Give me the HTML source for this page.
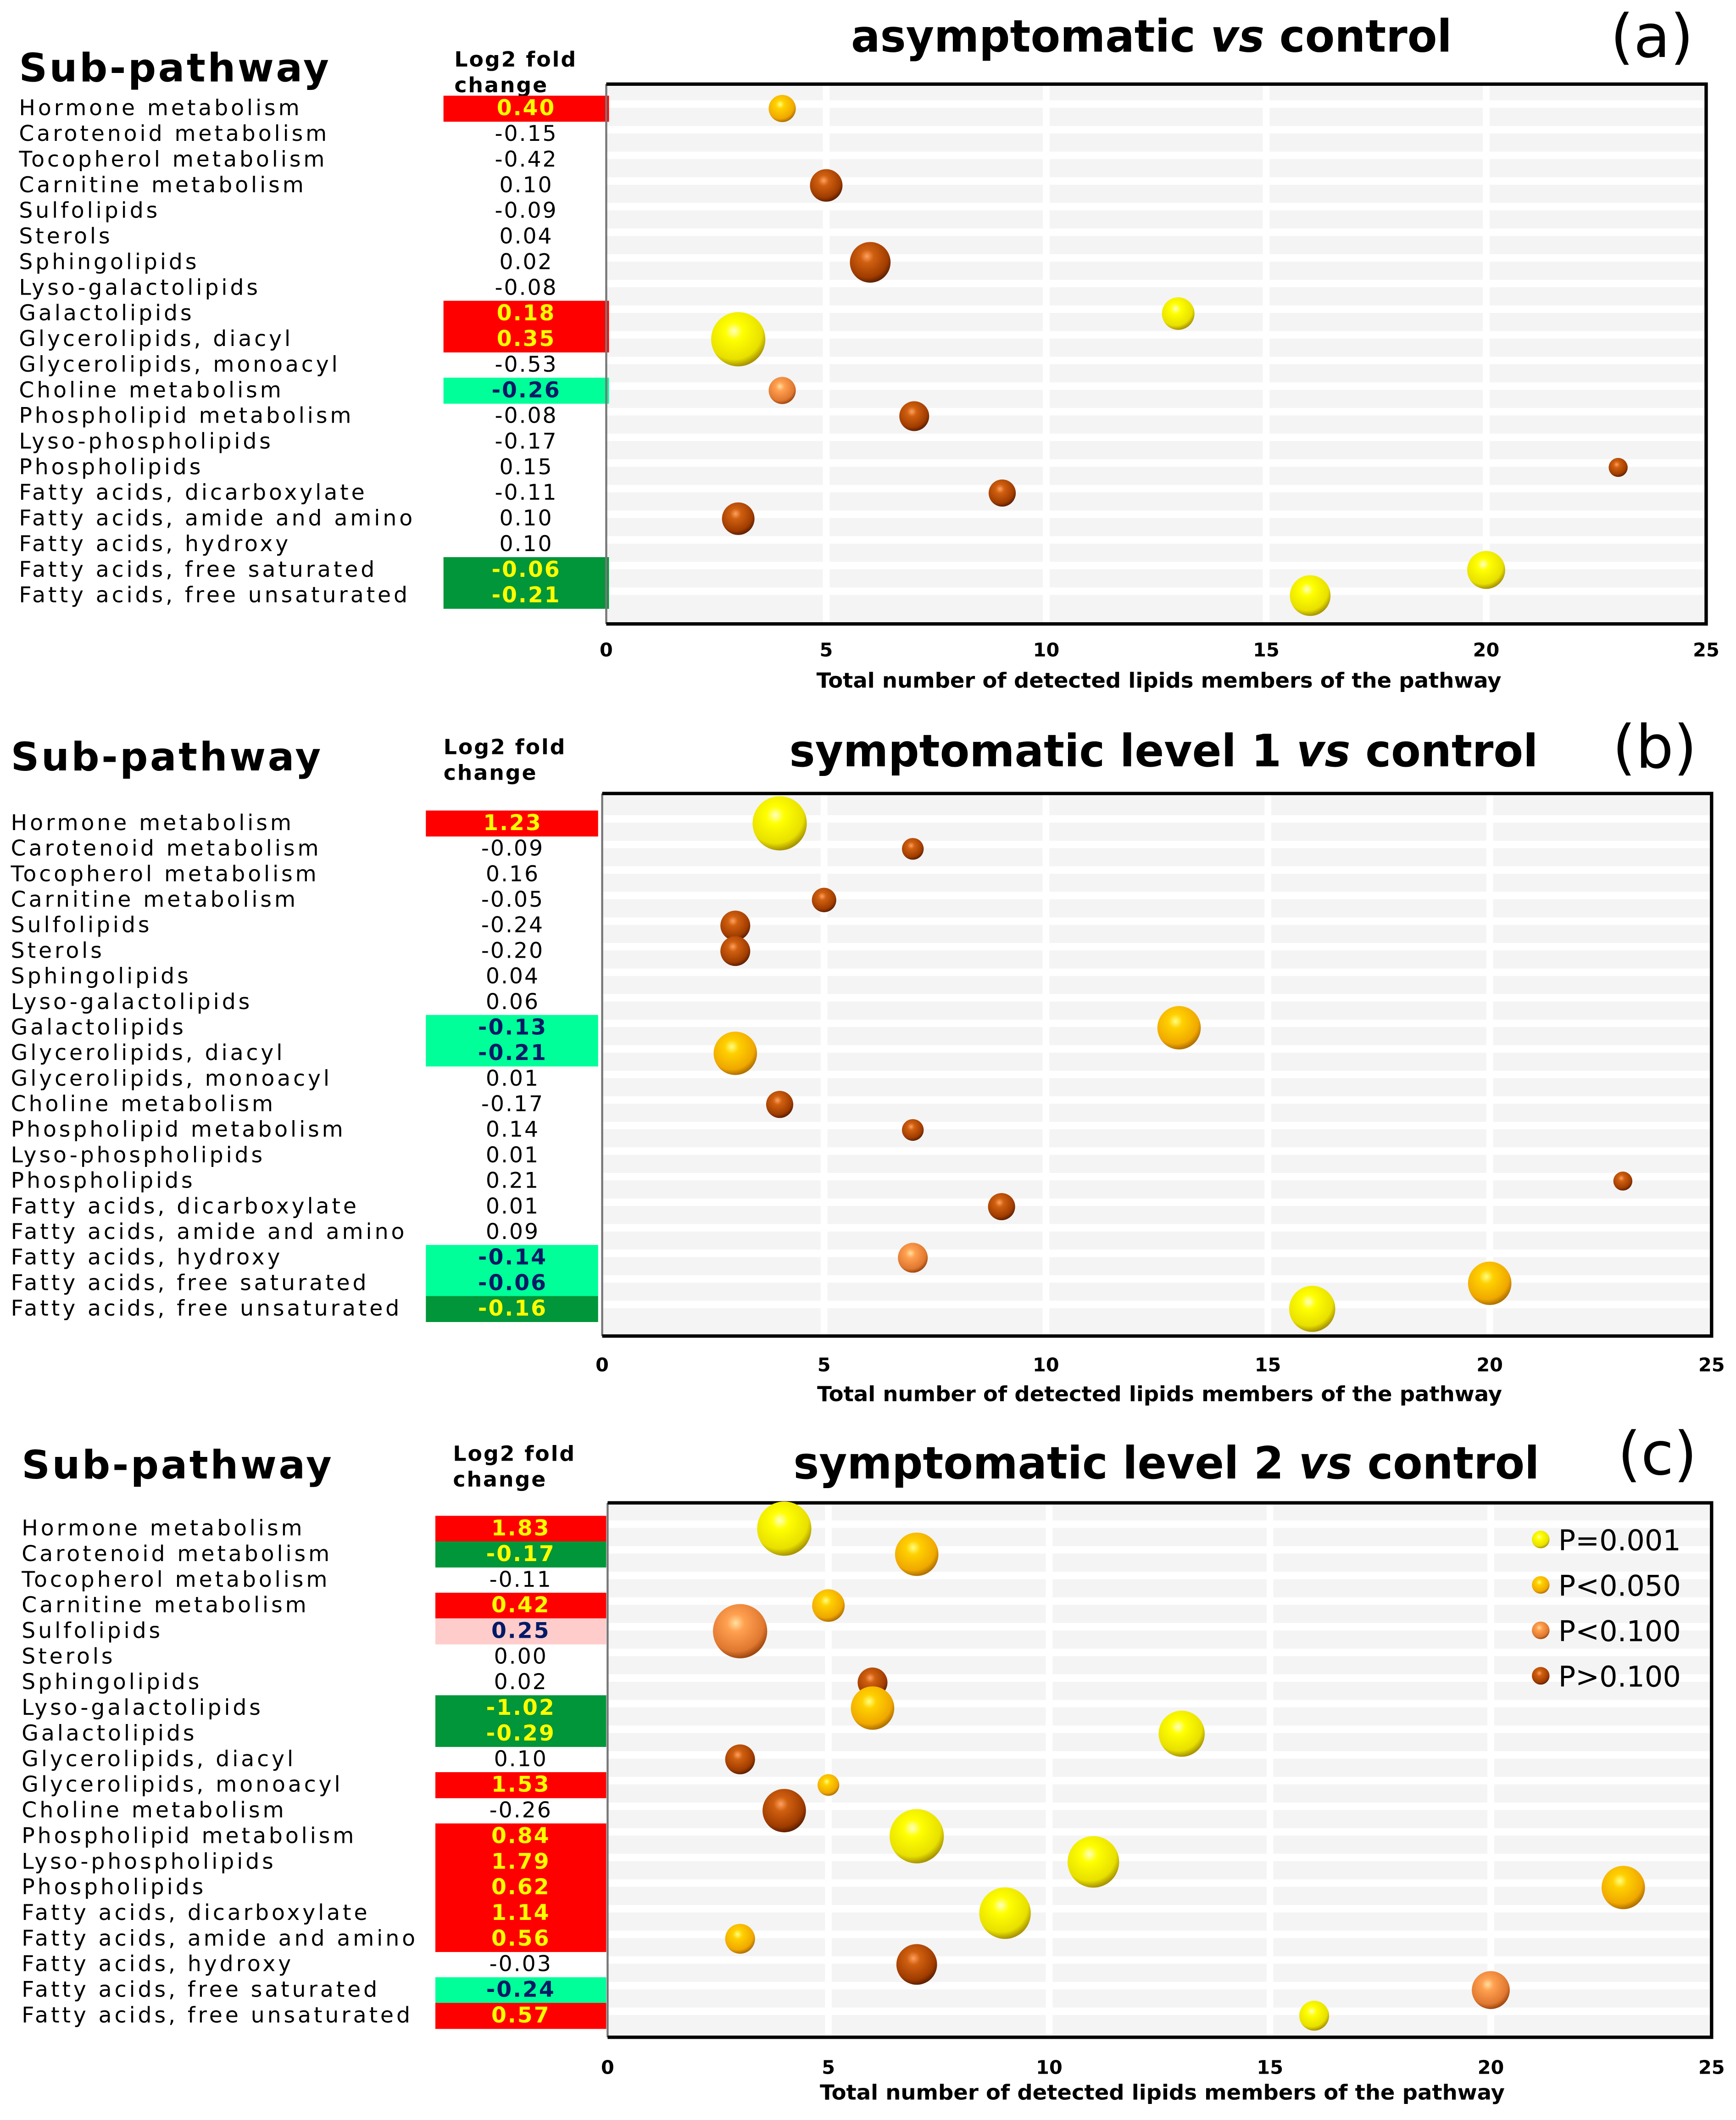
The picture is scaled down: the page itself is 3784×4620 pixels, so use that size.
<!DOCTYPE html>
<html><head><meta charset="utf-8"><style>
html,body{margin:0;padding:0;background:#fff;}
svg{display:block;}
text{font-family:"DejaVu Sans","Liberation Sans",sans-serif;}
</style></head><body>
<svg id="fig" xmlns="http://www.w3.org/2000/svg" width="3784" height="4620" viewBox="0 0 1280 1563" preserveAspectRatio="none">
<defs>
<radialGradient id="g-yellow" cx="0.42" cy="0.35" r="0.65"><stop offset="0" stop-color="#ffffc0"/><stop offset="0.25" stop-color="#ffff00"/><stop offset="0.8" stop-color="#e8e000"/><stop offset="1" stop-color="#a89400"/></radialGradient>
<radialGradient id="g-gold" cx="0.42" cy="0.35" r="0.65"><stop offset="0" stop-color="#ffff80"/><stop offset="0.25" stop-color="#ffd000"/><stop offset="0.8" stop-color="#f0a800"/><stop offset="1" stop-color="#b07000"/></radialGradient>
<radialGradient id="g-lorange" cx="0.42" cy="0.35" r="0.65"><stop offset="0" stop-color="#ffe0a0"/><stop offset="0.25" stop-color="#ffa050"/><stop offset="0.8" stop-color="#e07830"/><stop offset="1" stop-color="#a04810"/></radialGradient>
<radialGradient id="g-brown" cx="0.42" cy="0.35" r="0.65"><stop offset="0" stop-color="#ffa060"/><stop offset="0.25" stop-color="#d06010"/><stop offset="0.8" stop-color="#a03c00"/><stop offset="1" stop-color="#602000"/></radialGradient>
</defs>
</svg>
<script>
const rowLabels = ["Hormone metabolism","Carotenoid metabolism","Tocopherol metabolism","Carnitine metabolism","Sulfolipids","Sterols","Sphingolipids","Lyso-galactolipids","Galactolipids","Glycerolipids, diacyl","Glycerolipids, monoacyl","Choline metabolism","Phospholipid metabolism","Lyso-phospholipids","Phospholipids","Fatty acids, dicarboxylate","Fatty acids, amide and amino","Fatty acids, hydroxy","Fatty acids, free saturated","Fatty acids, free unsaturated"];
const xTicks = [0,5,10,15,20,25];
const legendLabels = ["P=0.001","P<0.050","P<0.100","P>0.100"];
const legendCats = ["yellow","gold","lorange","brown"];

// Panel a
const aValues = ["0.40","-0.15","-0.42","0.10","-0.09","0.04","0.02","-0.08","0.18","0.35","-0.53","-0.26","-0.08","-0.17","0.15","-0.11","0.10","0.10","-0.06","-0.21"];
const aBoxes = ["red","","","","","","","","red","red","","lgreen","","","","","","","dgreen","dgreen"];
const aRows = [0,3,6,8,9,11,12,14,15,16,18,19];
const aCounts = [4,5,6,13,3,4,7,23,9,3,20,16];
const aSizes = [10,12,15,12,20,10,11,7,10,12,14,15];
const aCats = ["gold","brown","brown","yellow","yellow","lorange","brown","brown","brown","brown","yellow","yellow"];
// Panel b
const bValues = ["1.23","-0.09","0.16","-0.05","-0.24","-0.20","0.04","0.06","-0.13","-0.21","0.01","-0.17","0.14","0.01","0.21","0.01","0.09","-0.14","-0.06","-0.16"];
const bBoxes = ["red","","","","","","","","lgreen","lgreen","","","","","","","","lgreen","lgreen","dgreen"];
const bRows = [0,1,3,4,5,8,9,11,12,14,15,17,18,19];
const bCounts = [4,7,5,3,3,13,3,4,7,23,9,7,20,16];
const bSizes = [20,8,9,11,11,16,16,10,8,7,10,11,16,17];
const bCats = ["yellow","brown","brown","brown","brown","gold","gold","brown","brown","brown","brown","lorange","gold","yellow"];
// Panel c
const cValues = ["1.83","-0.17","-0.11","0.42","0.25","0.00","0.02","-1.02","-0.29","0.10","1.53","-0.26","0.84","1.79","0.62","1.14","0.56","-0.03","-0.24","0.57"];
const cBoxes = ["red","dgreen","","red","pink","","","dgreen","dgreen","","red","","red","red","red","red","red","","lgreen","red"];
const cRows = [0,1,3,4,6,7,8,9,10,11,12,13,14,15,16,17,18,19];
const cCounts = [4,7,5,3,6,6,13,3,5,4,7,11,23,9,3,7,20,16];
const cSizes = [20,16,12,20,11,16,17,11,8,16,20,19,16,19,11,15,14,11];
const cCats = ["yellow","gold","gold","lorange","brown","gold","yellow","brown","gold","brown","yellow","yellow","gold","yellow","gold","brown","lorange","yellow"];

const NS = "http://www.w3.org/2000/svg";
const svg = document.getElementById("fig");
function mk(tag, attrs, parent, txt){
  const e = document.createElementNS(NS, tag);
  for (const k in attrs) e.setAttribute(k, attrs[k]);
  if (txt !== undefined) e.textContent = txt;
  (parent || svg).appendChild(e);
  return e;
}
const boxFill = {red:"#ff0000", lgreen:"#00ff99", dgreen:"#009639", pink:"#ffcccc"};
const boxText = {red:"#ffff00", lgreen:"#001a66", dgreen:"#ffff00", pink:"#001a66"};

function panel(P, values, boxes, rows, counts, sizes, cats, withLegend){
  const g = mk("g", {});
  
  
  const xs = v => P.left + (P.right - P.left) * v / 25;
  const ys = i => P.row0 + P.step * i;
  let t = mk("text", {x:P.subX, y:P.subY, "font-size":29, "font-weight":"bold", fill:"#000", "letter-spacing":1.5}, g, "Sub-pathway");
  
  
  t = mk("text", {x:P.logX, y:P.logY, "font-size":15.5, "font-weight":"bold", fill:"#000", "letter-spacing":1}, g, "Log2 fold");
  
  
  t = mk("text", {x:P.logX, y:P.logY + 19, "font-size":15.5, "font-weight":"bold", fill:"#000", "letter-spacing":1}, g, "change");
  
  
  t = mk("text", {x:P.titleX, y:P.titleY, "font-size":33, "font-weight":"bold", "text-anchor":"middle", fill:"#000", textLength:P.titleW, lengthAdjust:"spacingAndGlyphs"}, g);
  
  
  mk("tspan", {}, t, P.t1);
  mk("tspan", {"font-style":"italic"}, t, "vs");
  mk("tspan", {}, t, " control");
  t = mk("text", {x:P.letX, y:P.letY, "font-size":44, "text-anchor":"middle", fill:"#000"}, g, "(" + P.id + ")");
  
  
  const r = mk("rect", {x:P.left, y:P.top, width:P.right - P.left, height:P.bottom - P.top, fill:"#f4f4f4"}, g);
  
  
  for (let i = 0; i < rowLabels.length; i++) {
    mk("rect", {x:P.left, y:ys(i) - 6, width:P.right - P.left, height:5.5, fill:"#fff"}, g);
  }
  xTicks.forEach(v => { if (v > 0 && v < 25) mk("rect", {x:xs(v) - 2.5, y:P.top, width:5, height:P.bottom - P.top, fill:"#fff"}, g); });
  rowLabels.forEach((lab, i) => {
    const y = ys(i);
    const tl = mk("text", {x:P.labX, y:y + 5, "font-size":16, fill:"#000", "letter-spacing":2}, g, lab);
    
    
    const bx = boxes[i];
    if (bx) {
      const rr = mk("rect", {x:P.boxL, y:y - P.step / 2, width:P.boxR - P.boxL, height:P.step + 0.3, fill:boxFill[bx]}, g);
      
      
    }
    const tv = mk("text", {x:P.valC, y:y + 5, "font-size":16, "text-anchor":"middle", "letter-spacing":1, fill:bx ? boxText[bx] : "#000", "font-weight":bx ? "bold" : "normal"}, g, values[i]);
    
    
  });
  mk("line", {x1:P.left, y1:P.top, x2:P.left, y2:P.bottom, stroke:"#777", "stroke-width":1.5}, g);
  mk("path", {d:`M${P.left},${P.top}H${P.right}V${P.bottom}H${P.left}`, fill:"none", stroke:"#000", "stroke-width":2.5}, g);
  xTicks.forEach(v => {
    const tt = mk("text", {x:xs(v), y:P.tickY, "font-size":14, "font-weight":"bold", "text-anchor":"middle", fill:"#000"}, g, String(v));
    
    
  });
  t = mk("text", {x:(P.left + P.right) / 2 + 2, y:P.xtY, "font-size":15.5, "font-weight":"bold", "text-anchor":"middle", fill:"#000", textLength:505, lengthAdjust:"spacingAndGlyphs"}, g, "Total number of detected lipids  members of the pathway");
  
  
  rows.forEach((ri, k) => {
    const c = mk("circle", {cx:xs(counts[k]), cy:ys(ri), r:sizes[k], fill:`url(#g-${cats[k]})`}, g);
    
    
  });
  if (withLegend) {
    legendLabels.forEach((l, k) => {
      const ly = P.legY + k * 33.5;
      const lc = mk("circle", {cx:1136, cy:ly, r:6.5, fill:`url(#g-${legendCats[k]})`}, g);
      
      
      const lt = mk("text", {x:1149, y:ly + 8, "font-size":21, fill:"#000"}, g, l);
      
      
    });
  }
}
panel({id:"a", t1:"asymptomatic ", left:447, right:1258, top:62, bottom:460, row0:80, step:18.9, labX:14, valC:388, boxL:327, boxR:449, titleX:849, titleY:38, titleW:443, letX:1218, letY:42, subX:14, subY:60, logX:335, logY:49, tickY:484, xtY:507}, aValues, aBoxes, aRows, aCounts, aSizes, aCats, false);
panel({id:"b", t1:"symptomatic level 1 ", left:444, right:1262, top:585, bottom:985, row0:607, step:18.84, labX:8, valC:378, boxL:314, boxR:441, titleX:858, titleY:565, titleW:552, letX:1220, letY:566, subX:8, subY:568, logX:327, logY:556, tickY:1011, xtY:1033}, bValues, bBoxes, bRows, bCounts, bSizes, bCats, false);
panel({id:"c", t1:"symptomatic level 2 ", left:448, right:1262, top:1108, bottom:1502, row0:1127, step:18.9, labX:16, valC:384, boxL:321, boxR:447, titleX:860, titleY:1090, titleW:550, letX:1222, letY:1087, subX:16, subY:1090, logX:334, logY:1077, tickY:1529, xtY:1548, legY:1135}, cValues, cBoxes, cRows, cCounts, cSizes, cCats, true);
</script>
</body></html>
